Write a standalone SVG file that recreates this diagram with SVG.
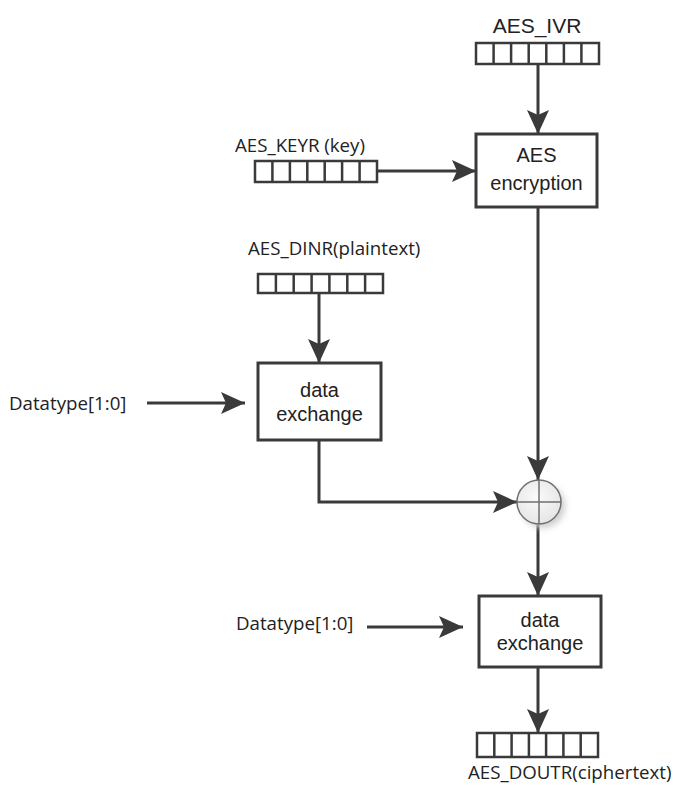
<svg xmlns="http://www.w3.org/2000/svg" width="673" height="787" viewBox="0 0 673 787">
<defs>
<style>
.box{fill:#fff;stroke:#3a3a3a;stroke-width:3}
.reg{fill:#fff;stroke:#3a3a3a;stroke-width:2.5}
.cell{stroke:#3a3a3a;stroke-width:2.5}
.ln{fill:none;stroke:#3a3a3a;stroke-width:3}
.bt{font-family:"Liberation Sans",Arial,sans-serif;font-size:20px;fill:#222;text-anchor:middle}
.lb{font-family:"Open Sans","Noto Sans",sans-serif;font-size:18.7px;fill:#222}
</style>
<marker id="ah" markerUnits="userSpaceOnUse" markerWidth="24" markerHeight="22" refX="24" refY="11" orient="auto">
<path d="M0,0 L24,11 L0,22 L5,11 Z" fill="#3a3a3a"/>
</marker>
<radialGradient id="cg" cx="0.45" cy="0.4" r="0.6">
<stop offset="0" stop-color="#fafafa"/>
<stop offset="1" stop-color="#e6e6e6"/>
</radialGradient>
<filter id="sh" x="-50%" y="-50%" width="200%" height="200%">
<feGaussianBlur stdDeviation="3"/>
</filter>
</defs>
<rect width="673" height="787" fill="#fff"/>

<g id="connectors">
<path class="ln" d="M538,64 V134" marker-end="url(#ah)"/>
<path class="ln" d="M377,171 H476" marker-end="url(#ah)"/>
<path class="ln" d="M538,207 V480" marker-end="url(#ah)"/>
<path class="ln" d="M319,293 V363" marker-end="url(#ah)"/>
<path class="ln" d="M147,403 H245" marker-end="url(#ah)"/>
<path class="ln" d="M319,440 V502 H517" marker-end="url(#ah)"/>
<path class="ln" d="M538,524 V596" marker-end="url(#ah)"/>
<path class="ln" d="M367,627 H463" marker-end="url(#ah)"/>
<path class="ln" d="M538,667 V733" marker-end="url(#ah)"/>
</g>

<g id="aes_ivr">
<text x="537" y="33" style="font-family:'Liberation Sans',Arial,sans-serif;font-size:21px;fill:#222;text-anchor:middle">AES_IVR</text>
<rect class="reg" x="476" y="43" width="123" height="21"/>
<path class="cell" d="M493.6,43V64M511.1,43V64M528.7,43V64M546.3,43V64M563.9,43V64M581.4,43V64"/>
</g>

<g id="aes_keyr">
<text class="lb" x="235" y="152">AES_KEYR (key)</text>
<rect class="reg" x="255" y="161" width="122" height="21"/>
<path class="cell" d="M272.4,161V182M289.9,161V182M307.3,161V182M324.7,161V182M342.1,161V182M359.6,161V182"/>
</g>

<g id="aes_encryption">
<rect class="box" x="476" y="134" width="121" height="73"/>
<text class="bt" x="536.5" y="162">AES</text>
<text class="bt" x="536.5" y="190">encryption</text>
</g>

<g id="aes_dinr">
<text class="lb" x="248" y="255">AES_DINR(plaintext)</text>
<rect class="reg" x="258" y="274" width="125" height="19"/>
<path class="cell" d="M275.9,274V293M293.7,274V293M311.6,274V293M329.4,274V293M347.3,274V293M365.1,274V293"/>
</g>

<g id="datatype1">
<text class="lb" x="9" y="410">Datatype[1:0]</text>
</g>

<g id="data_exchange1">
<rect class="box" x="258" y="363" width="123" height="77"/>
<text class="bt" x="319.5" y="397">data</text>
<text class="bt" x="319.5" y="421">exchange</text>
</g>

<g id="xor">
<circle cx="543" cy="506" r="22" fill="#cfcfcf" filter="url(#sh)"/>
<circle cx="539" cy="502" r="22" fill="url(#cg)" stroke="#707070" stroke-width="1.5"/>
<path d="M517,502H561M539,480V524" stroke="#707070" stroke-width="1.5"/>
</g>

<g id="datatype2">
<text class="lb" x="236" y="630">Datatype[1:0]</text>
</g>

<g id="data_exchange2">
<rect class="box" x="479" y="596" width="122" height="71"/>
<text class="bt" x="540" y="627">data</text>
<text class="bt" x="540" y="650">exchange</text>
</g>

<g id="aes_doutr">
<rect class="reg" x="477" y="733" width="121" height="24"/>
<path class="cell" d="M494.3,733V757M511.6,733V757M528.9,733V757M546.1,733V757M563.4,733V757M580.7,733V757"/>
<text class="lb" x="468" y="779">AES_DOUTR(ciphertext)</text>
</g>
</svg>
